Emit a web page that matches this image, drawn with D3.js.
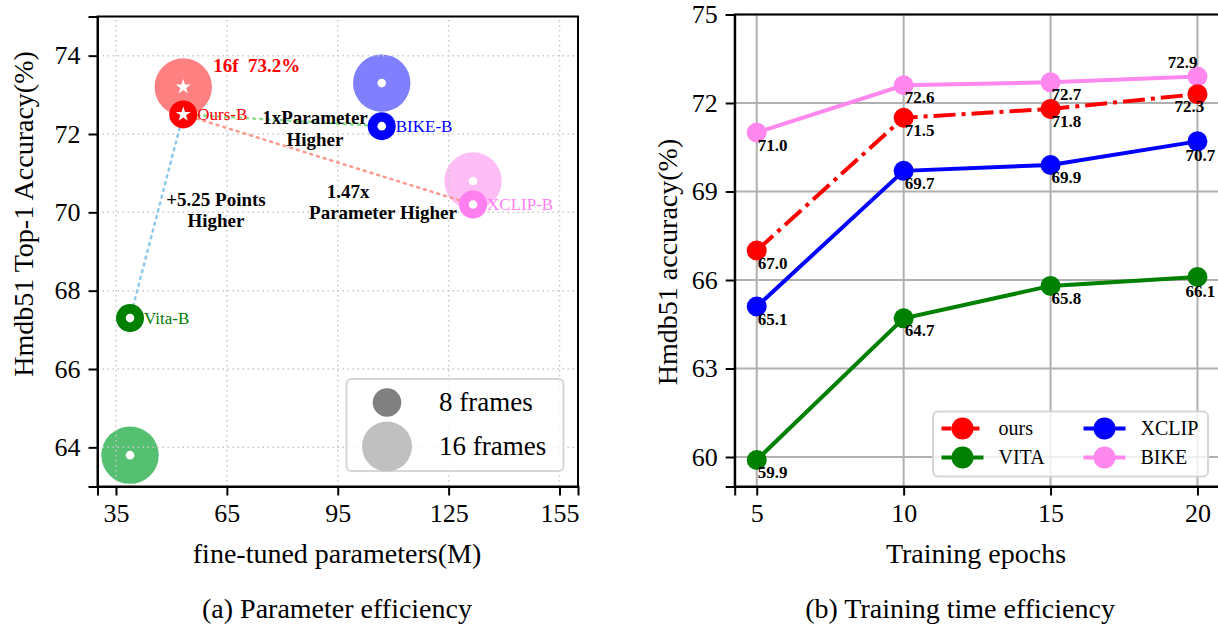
<!DOCTYPE html>
<meta charset="utf-8">
<script src="https://d3js.org/d3.v7.min.js"></script>
<style>
  body { margin: 0; background: #fff; }
  svg { display: block; font-family: "Liberation Serif", "Times New Roman", serif; }
  .grid-a line { stroke: #c8c8c8; stroke-width: 1.5; stroke-dasharray: 1.5,3.5; }
  .grid-b line { stroke: #b0b0b0; stroke-width: 2; }
  .axis path, .axis line { stroke: #000; stroke-width: 2; }
  .axis text { font-family: "Liberation Serif", serif; font-size: 26px; fill: #000; }
</style>
<div id="chart"></div>
<script>

// ---- (a) parameter efficiency ----
var models = ["Ours-B", "BIKE-B", "XCLIP-B", "Vita-B"];
var params = [53.2, 106.9, 131.6, 38.8];
var acc8 = [72.5, 72.2, 70.2, 67.3];
var acc16 = [73.2, 73.3, 70.8, 63.8];
var col8 = ["#ff0000", "#0000ff", "#ff7ef0", "#008000"];
var col16 = ["#ff8080", "#8080ff", "#ffbdf5", "#55bf72"];
var xTicksA = [35, 65, 95, 125, 155];
var yTicksA = [64, 66, 68, 70, 72, 74];

// ---- (b) training time efficiency ----
var epochs = [5, 10, 15, 20];
var oursAcc = [67.0, 71.5, 71.8, 72.3];
var xclipAcc = [65.1, 69.7, 69.9, 70.7];
var vitaAcc = [59.9, 64.7, 65.8, 66.1];
var bikeAcc = [71.0, 72.6, 72.7, 72.9];
var yTicksB = [60, 63, 66, 69, 72, 75];

var svg = d3.select("#chart").append("svg")
  .attr("width", 1218).attr("height", 630);

// ================= left chart =================
var xA = d3.scaleLinear().domain([30, 160]).range([97.5, 578]);
var yA = d3.scaleLinear().domain([63, 75]).range([486.5, 16.5]);

var ga = svg.append("g");

// 16 frame circles
ga.selectAll(".c16").data(models).enter().append("circle")
  .attr("cx", function(d, i) { return xA(params[i]); })
  .attr("cy", function(d, i) { return yA(acc16[i]); })
  .attr("r", 28.7)
  .attr("fill", function(d, i) { return col16[i]; });

// gridlines (drawn over the big circles like matplotlib)
ga.append("g").attr("class", "grid-a")
  .selectAll("line").data(xTicksA).enter().append("line")
  .attr("x1", function(d) { return xA(d); }).attr("x2", function(d) { return xA(d); })
  .attr("y1", yA.range()[0]).attr("y2", yA.range()[1]);
ga.append("g").attr("class", "grid-a")
  .selectAll("line").data(yTicksA).enter().append("line")
  .attr("y1", function(d) { return yA(d); }).attr("y2", function(d) { return yA(d); })
  .attr("x1", xA.range()[0]).attr("x2", xA.range()[1]);

// dotted comparison lines from ours
var linkCol = [null, "#8fde8f", "#f79a90", "#8cc8ee"];
[1, 2, 3].forEach(function(i) {
  ga.append("line")
    .attr("x1", xA(params[0])).attr("y1", yA(acc8[0]))
    .attr("x2", xA(params[i])).attr("y2", yA(acc8[i]))
    .attr("stroke", linkCol[i]).attr("stroke-width", 2.5)
    .attr("stroke-dasharray", "2,5").attr("stroke-linecap", "round");
});

// 8 frame circles
ga.selectAll(".c8").data(models).enter().append("circle")
  .attr("cx", function(d, i) { return xA(params[i]); })
  .attr("cy", function(d, i) { return yA(acc8[i]); })
  .attr("r", 14)
  .attr("fill", function(d, i) { return col8[i]; });

// white centre markers
var star = d3.symbol().type(d3.symbolStar).size(70);
[acc8, acc16].forEach(function(arr) {
  models.forEach(function(d, i) {
    if (i == 0) {
      ga.append("path").attr("d", star)
        .attr("transform", "translate(" + xA(params[i]) + "," + yA(arr[i]) + ")")
        .attr("fill", "#fff");
    } else {
      ga.append("circle").attr("cx", xA(params[i])).attr("cy", yA(arr[i]))
        .attr("r", 4.3).attr("fill", "#fff");
    }
  });
});

// model labels
ga.selectAll(".lab").data(models).enter().append("text")
  .attr("x", function(d, i) { return xA(params[i]) + 14; })
  .attr("y", function(d, i) { return yA(acc8[i]); })
  .attr("dy", "0.35em")
  .style("font-size", "17px")
  .attr("fill", function(d, i) { return col8[i]; })
  .text(function(d) { return d; });

ga.append("text")
  .attr("x", xA(params[0]) + 30).attr("y", yA(acc16[0]) - 15)
  .style("font-size", "19px").style("font-weight", "bold").attr("fill", "#ff0000")
  .attr("xml:space", "preserve")
  .text("16f  73.2%");

// annotations
function note(cx, base, lines) {
  lines.forEach(function(t, k) {
    ga.append("text").attr("x", cx).attr("y", base + k * 21.5)
      .attr("text-anchor", "middle")
      .style("font-size", "19px").style("font-weight", "bold")
      .text(t);
  });
}
note(315, 124, ["1xParameter", "Higher"]);
note(216, 205.5, ["+5.25 Points", "Higher"]);
ga.append("text").attr("x", 348).attr("y", 198).attr("text-anchor", "middle")
  .style("font-size", "19px").style("font-weight", "bold").text("1.47x");
ga.append("text").attr("x", 383).attr("y", 219).attr("text-anchor", "middle")
  .style("font-size", "19px").style("font-weight", "bold").text("Parameter Higher");

// legend
var lgA = ga.append("g");
lgA.append("rect").attr("x", 346.5).attr("y", 379).attr("width", 217).attr("height", 92)
  .attr("rx", 5).attr("fill", "#fff").attr("fill-opacity", 0.8)
  .attr("stroke", "#d6d6d6").attr("stroke-width", 2);
lgA.append("circle").attr("cx", 387).attr("cy", 402.5).attr("r", 14.3).attr("fill", "#808080");
lgA.append("circle").attr("cx", 387).attr("cy", 446.5).attr("r", 25).attr("fill", "#c0c0c0");
lgA.append("text").attr("x", 439).attr("y", 402.5).attr("dy", "0.33em")
  .style("font-size", "27px").text("8 frames");
lgA.append("text").attr("x", 439).attr("y", 446.5).attr("dy", "0.33em")
  .style("font-size", "27px").text("16 frames");

// axes
ga.append("g").attr("class", "axis")
  .attr("transform", "translate(0," + yA.range()[0] + ")")
  .call(d3.axisBottom(xA).tickValues(xTicksA).tickSize(9).tickPadding(8));
ga.append("g").attr("class", "axis")
  .attr("transform", "translate(" + xA.range()[0] + ",0)")
  .call(d3.axisLeft(yA).tickValues(yTicksA).tickSize(9).tickPadding(8));
ga.append("rect")
  .attr("x", xA.range()[0]).attr("y", yA.range()[1])
  .attr("width", xA.range()[1] - xA.range()[0]).attr("height", yA.range()[0] - yA.range()[1])
  .attr("fill", "none").attr("stroke", "#000").attr("stroke-width", 2);

ga.append("text").attr("x", 337).attr("y", 563).attr("text-anchor", "middle")
  .style("font-size", "28px").text("fine-tuned parameters(M)");
ga.append("text").attr("transform", "translate(33,214)rotate(-90)")
  .attr("text-anchor", "middle").style("font-size", "28px")
  .text("Hmdb51 Top-1 Accuracy(%)");
ga.append("text").attr("x", 337).attr("y", 618).attr("text-anchor", "middle")
  .style("font-size", "28px").text("(a) Parameter efficiency");

// ================= right chart =================
var xB = d3.scaleLinear().domain([4.25, 20.75]).range([734.7, 1219.5]);
var yB = d3.scaleLinear().domain([59, 75]).range([486.5, 14.5]);
var gb = svg.append("g");

gb.append("g").attr("class", "grid-b")
  .selectAll("line").data(epochs).enter().append("line")
  .attr("x1", function(d) { return xB(d); }).attr("x2", function(d) { return xB(d); })
  .attr("y1", yB.range()[0]).attr("y2", yB.range()[1]);
gb.append("g").attr("class", "grid-b")
  .selectAll("line").data(yTicksB).enter().append("line")
  .attr("y1", function(d) { return yB(d); }).attr("y2", function(d) { return yB(d); })
  .attr("x1", xB.range()[0]).attr("x2", xB.range()[1]);

var series = [
  {name: "ours", values: oursAcc, color: "#ff0000", dash: "22,6,4,6"},
  {name: "XCLIP", values: xclipAcc, color: "#0000ff", dash: null},
  {name: "VITA", values: vitaAcc, color: "#008000", dash: null},
  {name: "BIKE", values: bikeAcc, color: "#ff88ee", dash: null}
];

var line = d3.line()
  .x(function(d, i) { return xB(epochs[i]); })
  .y(function(d) { return yB(d); });

// draw order like the reference: bike, ours, xclip, vita
[3, 0, 1, 2].forEach(function(k) {
  var s = series[k];
  var g = gb.append("g");
  g.append("path").datum(s.values).attr("d", line)
    .attr("fill", "none").attr("stroke", s.color).attr("stroke-width", 4)
    .attr("stroke-dasharray", s.dash);
  g.selectAll("circle").data(s.values).enter().append("circle")
    .attr("cx", function(d, i) { return xB(epochs[i]); })
    .attr("cy", function(d) { return yB(d); })
    .attr("r", 10).attr("fill", s.color);
});

// value labels
series.forEach(function(s) {
  gb.selectAll(null).data(s.values).enter().append("text")
    .attr("x", function(d, i) {
      var dx = 1;
      if (i == 3) dx = s.name == "BIKE" ? 0 : (s.name == "ours" ? -23 : -12);
      return xB(epochs[i]) + dx;
    })
    .attr("y", function(d, i) {
      var dy = 18;
      if (i == 3) dy = s.name == "BIKE" ? -8 : (s.name == "ours" ? 18 : 20);
      return yB(d) + dy;
    })
    .attr("text-anchor", function(d, i) { return (i == 3 && s.name == "BIKE") ? "end" : "start"; })
    .style("font-size", "17px").style("font-weight", "bold")
    .text(function(d) { return d.toFixed(1); });
});

// legend
var lgB = gb.append("g");
lgB.append("rect").attr("x", 933).attr("y", 411.5).attr("width", 275).attr("height", 65)
  .attr("rx", 5).attr("fill", "#fff").attr("fill-opacity", 0.8)
  .attr("stroke", "#d6d6d6").attr("stroke-width", 2);
var legPos = [[0, 0], [1, 0], [0, 1], [1, 1]];
series.forEach(function(s, k) {
  var lx = 941.5 + legPos[k][0] * 142;
  var ly = 428.5 + legPos[k][1] * 29;
  lgB.append("line").attr("x1", lx).attr("x2", lx + 42).attr("y1", ly).attr("y2", ly)
    .attr("stroke", s.color).attr("stroke-width", 4)
    .attr("stroke-dasharray", s.dash ? "10,7,4,7" : null);
  lgB.append("circle").attr("cx", lx + 21).attr("cy", ly).attr("r", 11).attr("fill", s.color);
  lgB.append("text").attr("x", lx + 57).attr("y", ly).attr("dy", "0.33em")
    .style("font-size", "20px").text(s.name);
});

gb.append("g").attr("class", "axis")
  .attr("transform", "translate(0," + yB.range()[0] + ")")
  .call(d3.axisBottom(xB).tickValues(epochs).tickSize(9).tickPadding(8));
gb.append("g").attr("class", "axis")
  .attr("transform", "translate(" + xB.range()[0] + ",0)")
  .call(d3.axisLeft(yB).tickValues(yTicksB).tickSize(9).tickPadding(8));
gb.append("rect")
  .attr("x", xB.range()[0]).attr("y", yB.range()[1])
  .attr("width", xB.range()[1] - xB.range()[0]).attr("height", yB.range()[0] - yB.range()[1])
  .attr("fill", "none").attr("stroke", "#000").attr("stroke-width", 2);

gb.append("text").attr("x", 976).attr("y", 563).attr("text-anchor", "middle")
  .style("font-size", "28px").text("Training epochs");
gb.append("text").attr("transform", "translate(677,262)rotate(-90)")
  .attr("text-anchor", "middle").style("font-size", "28px")
  .text("Hmdb51 accuracy(%)");
gb.append("text").attr("x", 960).attr("y", 618).attr("text-anchor", "middle")
  .style("font-size", "28px").text("(b) Training time efficiency");

</script>
